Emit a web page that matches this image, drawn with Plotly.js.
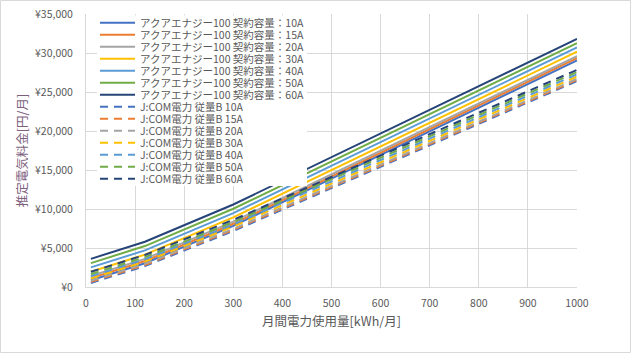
<!DOCTYPE html>
<html>
<head>
<meta charset="utf-8">
<script src="https://cdn.plot.ly/plotly-3.0.1.min.js"></script>
<style>html,body{margin:0;padding:0;background:#fff;}#chart{width:631px;height:353px;}</style>
</head>
<body>
<div id="chart"></div>
<script>
// ---- data ----
const usage = [10, 120, 300, 1000]; // kWh/月

const aqua10 = [860, 3050, 7830, 29060];
const aqua15 = [1135, 3325, 8105, 29335];
const aqua20 = [1410, 3600, 8380, 29610];
const aqua30 = [1960, 4150, 8930, 30160];
const aqua40 = [2510, 4700, 9480, 30710];
const aqua50 = [3060, 5250, 10030, 31260];
const aqua60 = [3610, 5800, 10580, 31810];

const jcom10 = [520, 2680, 7180, 26410];
const jcom15 = [663, 2823, 7323, 26553];
const jcom20 = [806, 2966, 7466, 26696];
const jcom30 = [1092, 3252, 7752, 26982];
const jcom40 = [1378, 3538, 8038, 27268];
const jcom50 = [1664, 3824, 8324, 27554];
const jcom60 = [1950, 4110, 8610, 27840];

const aquaNames = ['アクアエナジー100 契約容量：10A','アクアエナジー100 契約容量：15A','アクアエナジー100 契約容量：20A','アクアエナジー100 契約容量：30A','アクアエナジー100 契約容量：40A','アクアエナジー100 契約容量：50A','アクアエナジー100 契約容量：60A'];
const jcomNames = ['J:COM電力 従量B 10A','J:COM電力 従量B 15A','J:COM電力 従量B 20A','J:COM電力 従量B 30A','J:COM電力 従量B 40A','J:COM電力 従量B 50A','J:COM電力 従量B 60A'];
const palette = ['#4472C4','#ED7D31','#A5A5A5','#FFC000','#5B9BD5','#70AD47','#264478'];

const xTitle = '月間電力使用量[kWh/月]';
const yTitle = '推定電気料金[円/月]';

// ---- build ----
const aquaSeries = [aqua10, aqua15, aqua20, aqua30, aqua40, aqua50, aqua60];
const jcomSeries = [jcom10, jcom15, jcom20, jcom30, jcom40, jcom50, jcom60];
const DASH = '8px,6px';
const traces = [];
aquaSeries.forEach((s, i) => traces.push({x: usage, y: s, type: 'scatter', mode: 'lines', name: aquaNames[i], line: {color: palette[i], width: 2}, showlegend: false, hoverinfo: 'skip'}));
jcomSeries.forEach((s, i) => traces.push({x: usage, y: s, type: 'scatter', mode: 'lines', name: jcomNames[i], line: {color: palette[i], width: 2, dash: DASH}, showlegend: false, hoverinfo: 'skip'}));

const W = 631, H = 353, L = 86, R = 54, T = 14, B = 66;
const px = x => (x - L) / (W - L - R);
const py = y => (H - B - y) / (H - T - B);

const FONT = '"Noto Sans CJK JP", "Noto Sans", sans-serif';
const shapes = [];
const annotations = [];
// legend box (white, opaque, over the lines)
shapes.push({type: 'rect', xref: 'paper', yref: 'paper', layer: 'above', x0: px(97), x1: px(307), y0: py(186), y1: py(15.5), fillcolor: '#ffffff', line: {width: 0}});
const legNames = aquaNames.concat(jcomNames);
legNames.forEach((n, i) => {
  const yc = 22.7 + 12.0 * i;
  const c = palette[i % 7];
  shapes.push({type: 'line', xref: 'paper', yref: 'paper', layer: 'above', x0: px(100), x1: px(135), y0: py(yc), y1: py(yc), line: {color: c, width: 2, dash: i < 7 ? 'solid' : DASH}});
  annotations.push({xref: 'paper', yref: 'paper', x: px(139), y: py(yc), xanchor: 'left', yanchor: 'middle', showarrow: false, text: n, borderpad: 0, height: 11.5, valign: 'middle', font: {family: FONT, size: 10.5, color: '#595959'}});
});
// chart area border
shapes.push({type: 'rect', xref: 'paper', yref: 'paper', layer: 'below', x0: px(0.5), x1: px(630.5), y0: py(352.5), y1: py(0.5), line: {color: '#D9D9D9', width: 1}, fillcolor: 'rgba(0,0,0,0)'});

const layout = {
  width: W, height: H,
  margin: {l: L, r: R, t: T, b: B},
  paper_bgcolor: '#ffffff', plot_bgcolor: '#ffffff',
  font: {family: FONT, size: 10.5, color: '#595959'},
  showlegend: false,
  xaxis: {
    range: [0, 1000], dtick: 100, tick0: 0,
    showgrid: true, gridcolor: '#D9D9D9', gridwidth: 1,
    zeroline: false, showline: true, linecolor: '#D9D9D9', linewidth: 1,
    ticks: '', ticklabelstandoff: 6,
    tickfont: {family: FONT, size: 10.5, color: '#595959'},
    title: {text: xTitle, font: {family: FONT, size: 12.5, color: '#595959'}, standoff: 8}
  },
  yaxis: {
    range: [0, 35000], dtick: 5000, tick0: 0,
    tickprefix: '¥', tickformat: ',d',
    showgrid: true, gridcolor: '#D9D9D9', gridwidth: 1,
    zeroline: false, showline: true, linecolor: '#D9D9D9', linewidth: 1,
    ticks: '', ticklabelstandoff: 10,
    tickfont: {family: FONT, size: 10.5, color: '#595959'},
    title: {text: yTitle, font: {family: FONT, size: 12.5, color: '#7E5F7E'}, standoff: 4}
  },
  shapes: shapes,
  annotations: annotations
};

Plotly.newPlot('chart', traces, layout, {staticPlot: true, displayModeBar: false});
</script>
</body>
</html>
